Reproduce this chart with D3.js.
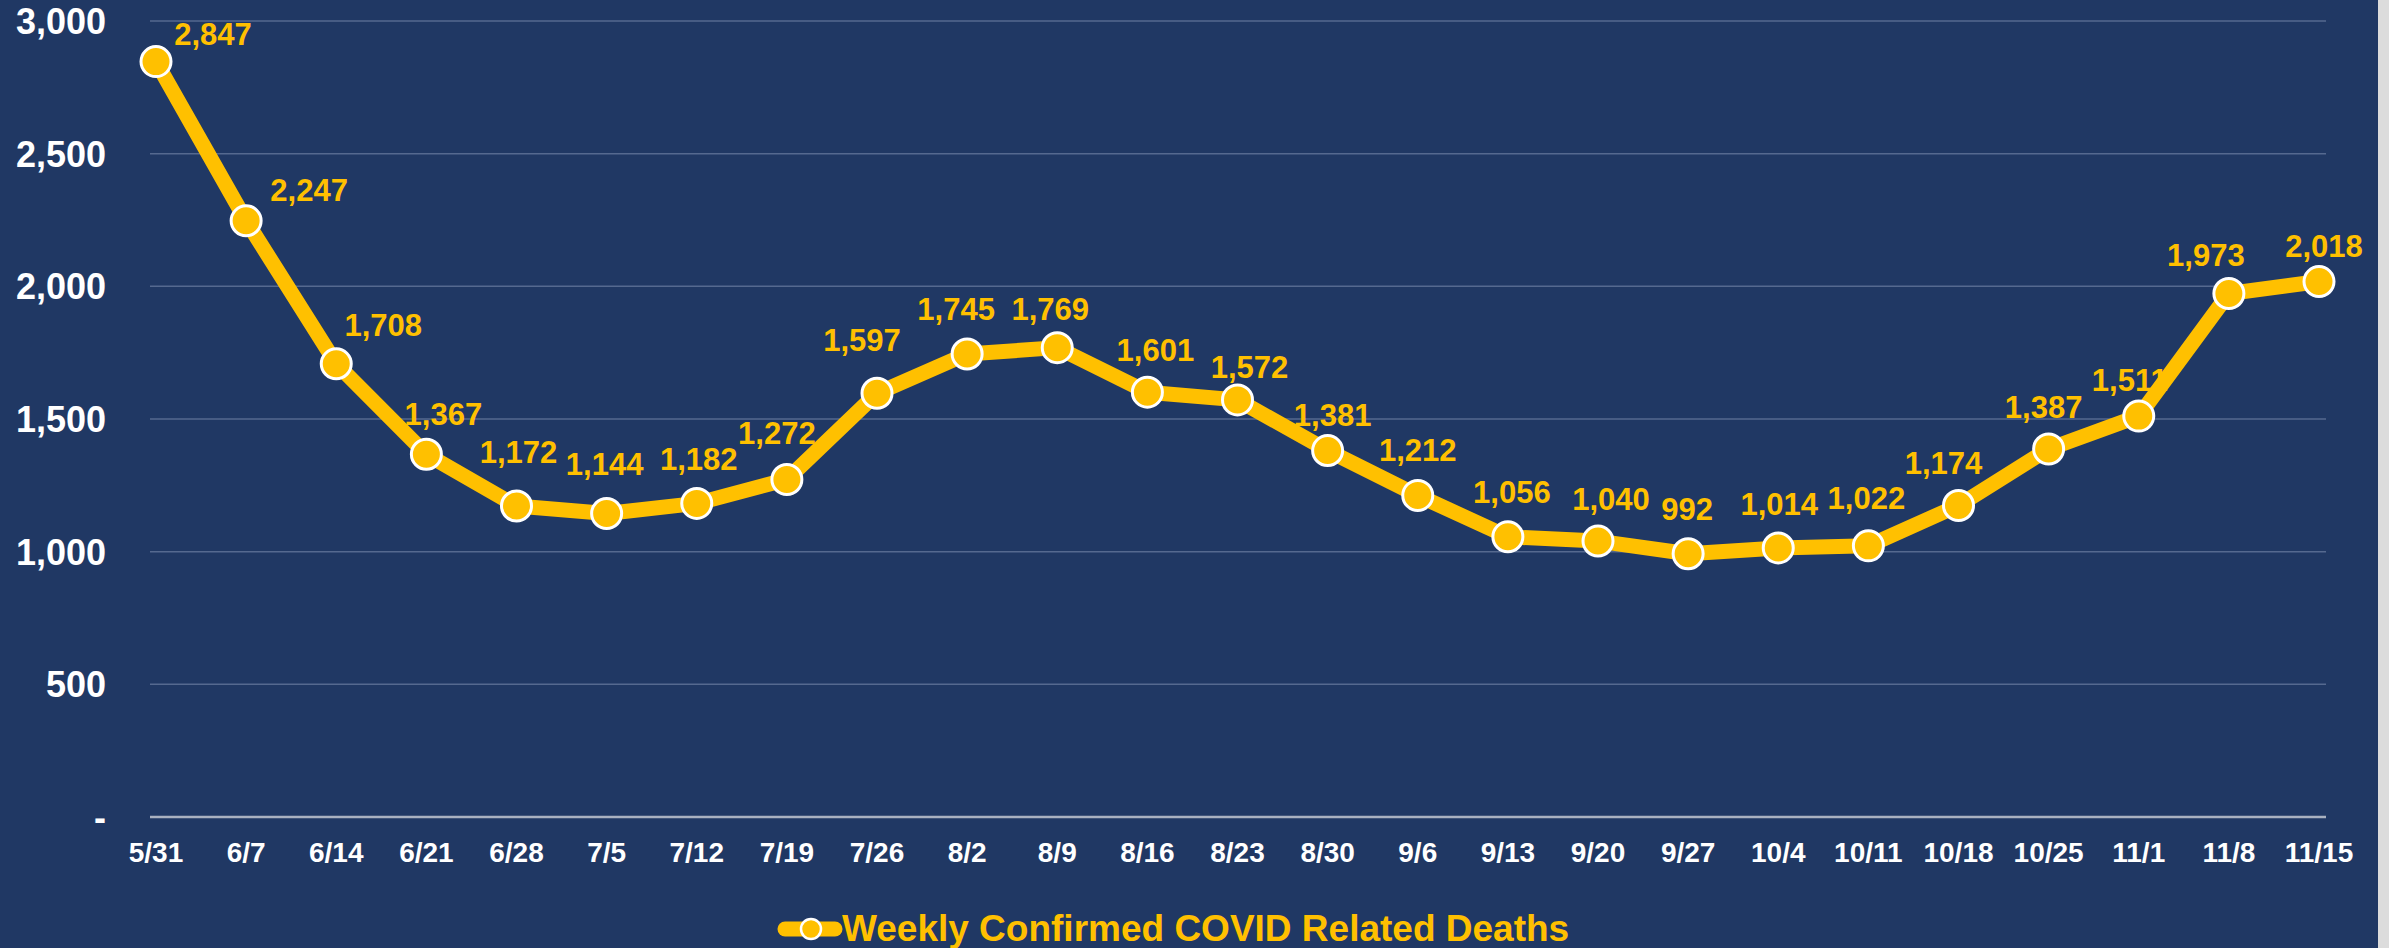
<!DOCTYPE html>
<html>
<head>
<meta charset="utf-8">
<script src="https://cdn.jsdelivr.net/npm/d3@7"></script>
<style>
  html, body { margin: 0; padding: 0; background: #dcdcdc; }
  svg { display: block; }
  text { font-family: "Liberation Sans", Arial, sans-serif; font-weight: bold; }
</style>
</head>
<body>
<div id="chart"></div>
<script>
// ── DATA ─────────────────────────────────────────────────────────────────────
const weeks = ['5/31', '6/7', '6/14', '6/21', '6/28', '7/5', '7/12', '7/19', '7/26',
  '8/2', '8/9', '8/16', '8/23', '8/30', '9/6', '9/13', '9/20', '9/27', '10/4',
  '10/11', '10/18', '10/25', '11/1', '11/8', '11/15'];

const deaths = [2847, 2247, 1708, 1367, 1172, 1144, 1182, 1272, 1597, 1745, 1769,
  1601, 1572, 1381, 1212, 1056, 1040, 992, 1014, 1022, 1174, 1387, 1511, 1973, 2018];

const yTicks = [0, 500, 1000, 1500, 2000, 2500, 3000];

const seriesName = 'Weekly Confirmed COVID Related Deaths';

// ── CONFIG ───────────────────────────────────────────────────────────────────
const W = 2389, H = 948;
const PANEL_W = 2378;
const BG     = '#203864';
const YELLOW = '#ffc000';

// hand-placed label nudges [dx, dy] from each marker, like the source
const LABEL_NUDGE = [
  [57, -17], [63, -20], [47, -28], [17, -29], [2, -43], [-2, -38], [2, -33],
  [-10, -35], [-15, -42], [-11, -34], [-7, -28], [8, -31], [12, -22], [5, -25],
  [0, -34], [4, -34], [13, -31], [-1, -34], [1, -33], [-2, -37], [-15, -31],
  [-5, -31], [-9, -25], [-23, -27], [5, -25]
];

// ── SVG ──────────────────────────────────────────────────────────────────────
const svg = d3.select('#chart')
  .append('svg')
    .attr('width', W)
    .attr('height', H);

svg.append('rect')
  .attr('width', PANEL_W)
  .attr('height', H)
  .attr('fill', BG);

// ── SCALES ───────────────────────────────────────────────────────────────────
const plotL = 150, plotR = 2326;
const x = d3.scalePoint().domain(weeks).range([156, 2319]);
const y = d3.scaleLinear().domain([0, 3000]).range([817, 21]);

// ── GRID + Y LABELS ──────────────────────────────────────────────────────────
svg.append('g')
  .selectAll('line')
  .data(yTicks.filter(d => d > 0))
  .join('line')
    .attr('x1', plotL).attr('x2', plotR)
    .attr('y1', d => y(d)).attr('y2', d => y(d))
    .attr('stroke', '#55698f')
    .attr('stroke-width', 1.5);

svg.append('line')
  .attr('x1', plotL).attr('x2', plotR)
  .attr('y1', y(0)).attr('y2', y(0))
  .attr('stroke', '#a9b1c0')
  .attr('stroke-width', 2.5);

svg.append('g')
  .selectAll('text')
  .data(yTicks)
  .join('text')
    .attr('x', 106)
    .attr('y', d => y(d))
    .attr('dy', '0.36em')
    .attr('text-anchor', 'end')
    .attr('font-size', '36px')
    .attr('fill', '#ffffff')
    .text(d => d === 0 ? '-' : d3.format(',')(d));

// ── X LABELS ─────────────────────────────────────────────────────────────────
svg.append('g')
  .selectAll('text')
  .data(weeks)
  .join('text')
    .attr('x', d => x(d))
    .attr('y', 862)
    .attr('text-anchor', 'middle')
    .attr('font-size', '28px')
    .attr('fill', '#ffffff')
    .text(d => d);

// ── DATA LABELS (under the line, as in the source) ───────────────────────────
const points = weeks.map((w, i) => ({ week: w, value: deaths[i], nudge: LABEL_NUDGE[i] }));

svg.append('g')
  .selectAll('text')
  .data(points)
  .join('text')
    .attr('x', d => x(d.week) + d.nudge[0])
    .attr('y', d => y(d.value) + d.nudge[1])
    .attr('text-anchor', 'middle')
    .attr('font-size', '31px')
    .attr('fill', YELLOW)
    .text(d => d3.format(',')(d.value));

// ── LINE + MARKERS ───────────────────────────────────────────────────────────
const line = d3.line()
  .x(d => x(d.week))
  .y(d => y(d.value));

svg.append('path')
  .datum(points)
  .attr('d', line)
  .attr('fill', 'none')
  .attr('stroke', YELLOW)
  .attr('stroke-width', 15)
  .attr('stroke-linejoin', 'round');

svg.append('g')
  .selectAll('circle')
  .data(points)
  .join('circle')
    .attr('cx', d => x(d.week))
    .attr('cy', d => y(d.value))
    .attr('r', 15)
    .attr('fill', YELLOW)
    .attr('stroke', '#ffffff')
    .attr('stroke-width', 3);

// ── LEGEND ───────────────────────────────────────────────────────────────────
const legend = svg.append('g');

legend.append('line')
  .attr('x1', 785).attr('x2', 835)
  .attr('y1', 929).attr('y2', 929)
  .attr('stroke', YELLOW)
  .attr('stroke-width', 15)
  .attr('stroke-linecap', 'round');

legend.append('circle')
  .attr('cx', 811).attr('cy', 929)
  .attr('r', 10)
  .attr('fill', YELLOW)
  .attr('stroke', '#ffffff')
  .attr('stroke-width', 2.5);

legend.append('text')
  .attr('x', 842)
  .attr('y', 941)
  .attr('font-size', '37px')
  .attr('fill', YELLOW)
  .text(seriesName);
</script>
</body>
</html>
